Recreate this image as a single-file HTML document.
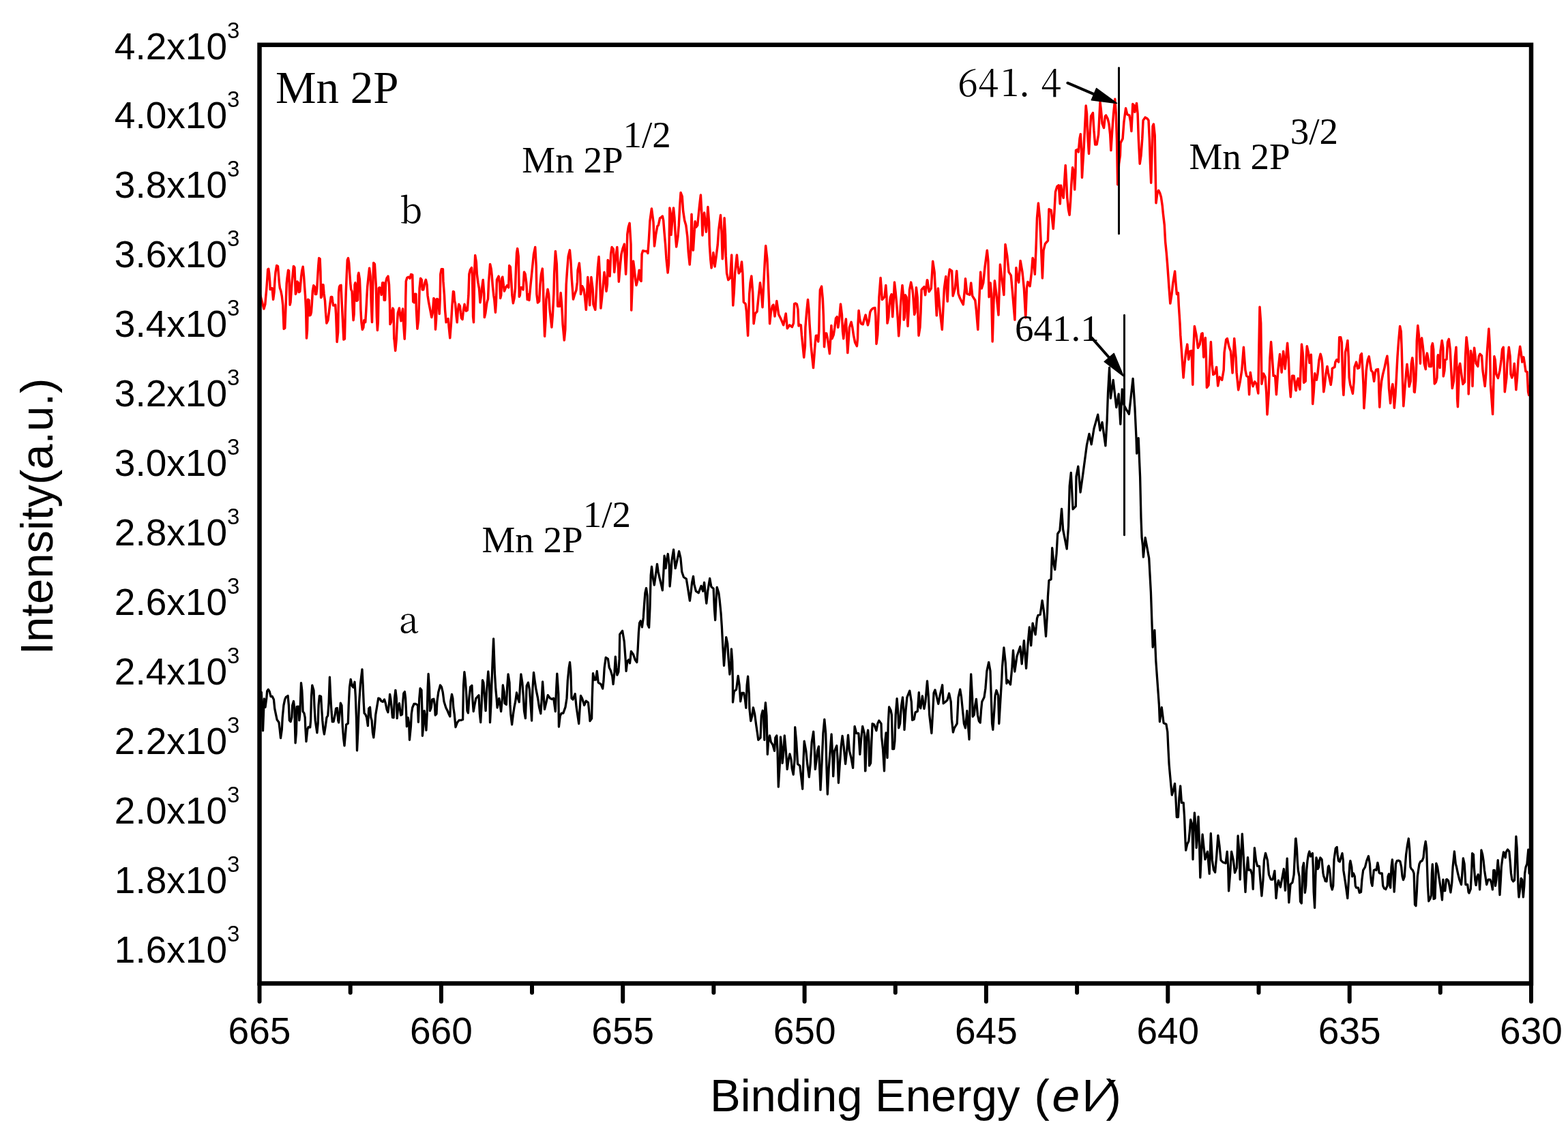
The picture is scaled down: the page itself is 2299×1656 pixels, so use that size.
<!DOCTYPE html><html><head><meta charset="utf-8"><title>Mn 2P XPS</title><style>html,body{margin:0;padding:0;background:#fff;}svg{display:block;}.sans{font-family:"Liberation Sans",Arial,sans-serif;}.serif{font-family:"Liberation Serif","Times New Roman",serif;}.song{font-family:"Noto Serif CJK SC","Liberation Serif",serif;}</style></head><body>
<svg width="2299" height="1656" viewBox="0 0 2299 1656">
<rect x="0" y="0" width="2299" height="1656" fill="#fff"/>
<polyline fill="none" stroke="#f00" stroke-width="3.5" stroke-linejoin="round" points="380.5,428.6 382.0,434.4 384.4,443.3 386.9,453.0 388.8,446.2 389.8,434.4 390.8,423.7 391.8,410.0 392.7,395.3 393.7,394.3 394.7,401.1 395.7,413.9 396.2,424.6 397.6,422.7 399.1,422.7 400.6,439.3 402.0,428.6 403.0,410.9 404.0,399.2 405.7,389.4 407.4,390.4 408.4,402.1 409.4,414.8 410.4,422.7 411.8,426.6 413.3,434.4 414.8,448.1 416.2,482.4 417.7,481.4 418.7,457.9 419.7,430.5 420.2,415.8 421.1,407.0 422.6,396.2 423.6,397.2 424.1,414.8 425.1,447.2 426.0,443.3 427.0,428.6 428.0,414.8 429.0,405.1 430.4,390.4 431.9,392.3 432.9,418.8 433.4,431.5 434.4,428.6 435.8,412.9 437.3,414.8 438.3,428.6 439.7,427.6 440.7,416.8 441.7,405.1 442.7,397.2 444.2,391.3 445.6,406.0 446.6,420.7 447.6,434.4 448.6,454.0 449.5,496.1 450.5,484.4 451.5,439.3 453.0,440.3 453.9,462.8 455.4,461.9 456.4,457.9 457.4,444.2 458.4,426.6 459.8,418.8 461.3,420.7 462.3,431.5 463.7,431.5 464.7,423.7 465.7,407.0 466.7,390.4 467.7,378.6 469.1,379.6 469.9,398.2 470.6,436.4 471.6,435.4 472.6,417.8 474.0,417.8 475.0,430.5 476.5,441.3 477.5,457.9 478.9,474.1 480.9,469.7 482.4,457.9 483.8,446.2 485.3,435.4 486.8,435.4 487.7,442.3 488.7,448.1 490.2,448.1 491.7,447.2 492.6,460.9 494.1,501.5 495.6,487.3 496.6,428.6 497.5,420.7 498.5,418.8 500.0,418.3 501.0,440.3 502.4,467.7 503.9,498.1 505.4,497.1 506.3,457.9 507.3,427.6 508.3,403.1 509.3,381.5 510.5,378.6 511.7,385.5 512.7,401.1 513.7,414.8 514.7,424.6 516.1,427.6 517.1,451.1 518.1,469.7 519.1,460.9 520.1,417.8 521.0,414.8 522.0,418.8 523.0,441.3 524.5,440.3 525.0,404.1 525.9,400.2 527.4,410.0 528.4,432.5 528.9,454.0 529.9,472.6 531.3,483.4 532.8,480.5 533.8,469.7 535.7,472.6 536.7,457.0 537.7,438.4 538.7,420.7 540.1,407.0 541.6,393.3 543.1,405.1 544.1,441.3 545.5,472.6 546.5,427.6 547.0,409.0 547.7,385.5 549.4,387.4 550.4,404.1 551.4,420.7 552.4,464.8 553.4,484.4 554.3,472.6 555.3,422.7 556.3,421.7 557.8,422.7 559.2,432.5 560.7,414.8 562.2,414.8 563.2,440.3 564.6,440.3 565.6,413.9 567.1,408.0 569.0,405.1 570.5,417.8 571.5,446.2 572.0,475.6 573.4,472.6 574.4,457.9 575.9,452.1 576.9,454.0 577.8,497.1 578.1,497.8 579.7,514.4 581.2,497.8 582.3,474.9 583.3,459.3 585.4,452.0 586.4,460.3 588.0,470.7 589.6,459.3 590.6,453.0 591.6,474.9 593.2,497.2 594.3,474.9 594.8,435.3 595.3,412.4 596.9,407.2 598.9,406.2 601.0,408.3 602.6,402.5 604.7,403.1 605.2,422.8 605.7,442.6 607.3,443.7 608.3,431.2 609.9,431.2 610.4,454.1 611.9,482.2 613.5,469.7 614.5,443.7 615.1,422.8 616.6,408.3 618.2,410.4 619.2,424.9 620.8,424.9 622.9,414.5 624.4,410.4 626.0,417.6 627.0,433.2 628.6,443.7 630.7,454.1 632.8,465.5 634.3,459.3 635.9,437.4 637.4,439.5 638.5,483.2 639.5,469.7 640.6,438.4 642.6,439.5 644.2,460.3 645.2,438.4 645.8,402.0 647.3,394.7 649.4,394.7 649.9,412.4 651.5,433.2 652.5,454.1 654.1,472.8 655.6,468.6 657.2,467.6 658.2,480.1 659.8,495.7 661.4,474.9 662.9,448.9 664.5,427.5 665.5,428.0 666.6,441.6 667.6,445.7 669.2,464.5 670.2,472.8 671.3,456.1 672.8,446.3 674.4,448.9 675.4,458.2 676.5,466.5 678.0,468.6 679.6,454.1 681.1,446.3 683.2,456.1 685.3,455.1 686.9,433.2 687.9,402.0 689.5,395.8 691.5,392.7 692.6,406.2 693.6,464.5 694.5,472.8 695.2,433.2 695.7,397.9 696.7,374.5 698.3,384.3 699.3,402.0 700.9,414.5 702.5,422.8 704.0,443.7 705.6,433.2 706.6,422.8 708.2,410.4 709.8,431.2 710.3,465.5 711.8,459.3 713.9,443.7 715.5,438.4 716.5,414.5 718.6,387.5 720.2,394.7 721.2,404.1 722.2,417.6 723.8,433.2 724.8,439.5 726.4,458.2 727.4,443.7 728.5,410.4 731.1,405.2 732.6,415.6 733.7,437.4 734.7,433.2 735.8,408.3 736.8,406.2 738.4,418.7 739.4,427.0 741.5,421.8 743.6,418.7 745.7,421.8 746.7,389.5 748.3,391.6 749.8,414.5 750.9,433.2 752.4,444.7 754.0,437.4 755.5,422.8 756.6,391.6 757.6,370.8 758.7,364.6 760.2,376.0 760.7,403.1 761.3,435.3 762.3,433.2 763.3,421.8 765.4,421.8 767.0,424.9 768.5,398.9 770.1,402.0 771.7,414.5 773.2,439.5 773.7,431.6 775.9,440.4 778.1,416.9 780.3,394.9 782.5,372.8 784.7,362.5 786.2,390.4 786.9,431.6 788.4,444.1 790.6,441.9 792.0,416.9 793.5,402.2 795.3,394.1 796.4,416.9 797.2,453.6 798.6,493.3 800.1,468.3 800.8,438.9 803.0,424.2 804.5,431.6 806.0,453.6 808.9,480.0 810.4,461.0 811.9,431.6 812.6,402.2 814.4,368.4 816.3,387.5 817.0,416.9 817.7,449.2 820.7,449.2 822.1,429.4 823.6,446.3 825.1,475.6 827.3,499.1 828.8,483.0 829.5,446.3 830.2,416.9 831.7,394.9 833.2,375.8 835.4,366.9 836.8,381.6 838.3,409.5 840.5,438.9 842.7,431.6 844.9,425.7 846.4,413.9 847.1,396.3 849.3,386.0 850.8,402.2 851.5,431.6 853.7,419.8 855.9,424.2 857.4,434.5 859.3,454.3 860.3,438.9 861.8,406.6 863.3,424.2 864.7,447.7 866.9,406.6 869.1,424.2 869.9,446.3 872.8,454.3 875.0,416.9 876.5,391.9 878.0,376.5 879.4,402.2 880.9,452.1 882.4,438.9 883.8,424.2 886.0,399.3 887.5,409.5 889.0,427.2 890.4,416.9 891.2,381.6 892.6,384.6 894.1,405.1 895.6,372.8 897.1,362.5 899.3,365.5 900.7,399.3 902.9,375.8 904.8,362.5 906.6,394.9 907.3,413.2 909.5,387.5 911.0,372.8 913.2,364.0 915.4,358.1 917.6,402.2 919.1,372.8 919.8,343.4 921.3,333.2 923.1,327.3 925.0,358.1 925.7,455.1 927.2,416.9 928.6,383.1 930.1,394.9 931.6,409.5 933.0,418.4 935.2,409.5 937.2,396.3 938.9,411.0 940.1,412.5 941.1,372.8 942.6,367.7 945.5,368.4 948.5,368.4 949.9,371.4 951.4,350.8 952.9,324.3 955.4,306.0 958.0,325.8 959.5,361.1 961.7,343.4 963.9,331.7 965.4,330.2 967.6,319.9 969.8,318.5 971.3,317.0 972.7,323.3 974.1,341.6 975.6,358.5 977.0,379.7 979.1,400.1 980.5,386.7 981.2,351.5 981.9,305.0 983.3,313.5 984.0,344.5 986.1,319.1 987.5,305.0 988.9,319.1 990.3,344.5 991.7,362.1 993.9,347.3 995.3,330.4 996.7,302.2 998.1,282.5 1000.2,288.2 1001.6,309.3 1003.7,323.3 1005.8,330.4 1007.9,347.3 1009.3,369.8 1011.2,388.1 1012.9,365.6 1014.0,314.2 1015.7,358.5 1016.4,367.0 1017.8,344.5 1019.2,324.8 1020.6,333.2 1022.7,330.4 1024.1,316.3 1025.5,302.2 1027.4,286.0 1029.0,316.3 1030.0,345.2 1031.2,323.3 1032.6,312.1 1034.0,326.2 1035.4,340.2 1036.8,323.3 1037.9,303.6 1039.6,326.2 1040.3,358.5 1041.7,379.7 1043.1,393.0 1044.5,383.9 1045.9,370.5 1048.1,390.9 1050.2,375.4 1052.3,358.5 1053.7,337.4 1056.5,315.6 1057.9,338.8 1059.3,379.7 1060.7,358.5 1062.1,319.8 1063.5,344.5 1064.2,375.4 1065.6,400.8 1067.8,410.6 1070.6,407.8 1072.7,374.0 1073.4,400.8 1074.8,447.9 1076.2,428.9 1077.6,400.8 1080.4,374.0 1081.8,389.5 1083.2,400.8 1085.4,398.0 1087.5,383.9 1088.9,400.8 1090.3,443.0 1093.1,445.8 1094.5,457.1 1096.6,492.3 1098.7,431.7 1100.1,414.8 1101.8,405.0 1103.7,428.9 1105.1,474.7 1107.2,459.9 1110.0,457.1 1112.1,436.0 1114.5,414.8 1116.3,428.9 1118.0,450.7 1119.8,414.8 1121.2,386.7 1122.7,360.6 1124.8,379.7 1126.2,407.8 1127.6,443.0 1128.6,474.7 1130.4,457.1 1132.5,448.6 1133.9,447.2 1136.0,464.1 1138.8,441.6 1141.7,461.3 1145.2,468.3 1148.7,476.8 1152.2,459.9 1154.3,481.7 1157.8,476.8 1161.4,479.6 1163.5,474.0 1164.6,445.8 1166.1,444.9 1168.3,446.0 1169.9,453.7 1171.0,478.0 1172.7,476.3 1174.3,476.9 1175.4,491.2 1177.1,507.7 1178.7,524.2 1180.4,507.7 1180.9,480.2 1182.6,458.1 1184.5,439.4 1185.9,453.7 1187.0,474.6 1188.1,491.2 1189.2,507.7 1190.8,524.2 1192.5,539.6 1194.1,518.7 1195.3,502.2 1196.4,492.3 1198.0,492.3 1199.7,501.1 1200.8,485.7 1201.3,458.1 1202.4,425.1 1204.6,420.1 1206.3,438.3 1207.4,463.6 1208.5,508.8 1210.1,489.0 1211.8,489.0 1213.4,496.7 1215.1,508.8 1216.4,518.7 1217.8,496.7 1218.9,477.4 1220.0,496.7 1222.2,491.2 1223.9,480.2 1225.5,466.9 1227.2,464.7 1228.8,480.2 1230.5,469.1 1232.5,446.0 1234.4,461.4 1235.5,485.7 1236.8,496.7 1238.2,480.2 1240.4,468.0 1241.5,491.2 1242.8,517.6 1244.3,496.7 1245.4,480.2 1248.1,472.4 1249.8,480.2 1251.4,491.2 1253.6,502.2 1256.4,507.7 1257.5,496.7 1258.0,475.8 1259.1,455.4 1260.8,469.1 1262.4,474.6 1265.2,475.8 1266.9,469.1 1269.1,462.0 1270.7,469.1 1272.4,476.9 1274.0,471.3 1275.7,458.1 1277.3,454.8 1280.1,452.1 1282.8,451.5 1283.9,463.6 1285.0,504.4 1286.7,491.2 1287.8,469.1 1288.9,436.1 1291.1,407.5 1292.2,422.9 1293.3,439.4 1295.5,437.2 1297.1,435.0 1298.8,418.5 1299.9,433.9 1301.0,474.1 1302.7,465.8 1303.8,449.3 1305.4,436.1 1307.1,431.7 1308.7,464.7 1309.8,447.1 1311.5,414.1 1313.1,428.4 1314.8,447.1 1316.4,469.1 1317.7,492.8 1319.2,474.6 1320.3,449.3 1321.4,436.1 1323.0,418.5 1324.7,436.1 1325.2,469.1 1326.3,465.8 1327.4,432.8 1329.1,436.1 1330.2,458.1 1331.0,478.5 1332.4,452.6 1333.5,425.1 1335.7,414.1 1337.9,425.1 1339.0,436.1 1340.7,461.4 1341.8,458.1 1343.4,421.8 1345.1,436.1 1346.2,469.1 1347.0,492.3 1348.9,480.2 1350.0,458.1 1351.1,425.1 1352.8,422.9 1355.0,420.7 1356.6,432.8 1358.3,419.6 1359.4,410.8 1359.8,411.0 1362.2,427.7 1365.3,423.0 1367.7,383.2 1370.1,399.1 1371.7,430.9 1373.3,462.8 1375.4,423.0 1377.3,446.8 1378.9,462.8 1381.3,483.4 1382.8,454.8 1384.4,423.0 1386.8,405.5 1389.2,442.1 1390.8,407.1 1392.4,395.1 1395.6,397.5 1397.2,434.1 1400.3,423.0 1402.7,397.5 1405.1,430.9 1407.5,437.3 1409.9,442.1 1412.3,446.8 1414.7,423.0 1415.5,408.7 1417.8,430.9 1421.8,432.5 1423.7,415.0 1425.8,434.1 1429.8,440.5 1431.4,454.8 1433.8,483.4 1435.4,446.8 1437.7,399.1 1439.3,423.0 1441.7,415.0 1444.1,391.2 1447.3,367.3 1448.9,383.2 1450.1,435.7 1452.1,415.0 1453.6,430.9 1455.2,500.9 1456.8,446.8 1458.4,411.8 1460.8,430.9 1464.0,462.0 1466.4,388.0 1468.8,407.1 1471.9,432.5 1474.0,358.5 1476.7,375.2 1479.1,399.1 1482.3,403.9 1484.7,430.9 1487.9,469.1 1489.9,392.7 1491.8,407.1 1493.7,414.2 1496.1,382.4 1499.0,399.1 1501.4,423.0 1503.8,465.9 1505.4,423.0 1506.9,413.4 1510.1,419.8 1512.5,399.1 1514.1,378.4 1515.7,383.2 1517.3,402.3 1518.9,367.3 1520.5,319.6 1522.4,298.1 1524.5,319.6 1526.0,351.4 1528.4,407.9 1530.0,367.3 1532.4,357.7 1536.4,353.0 1538.0,306.8 1541.2,308.4 1544.3,335.5 1545.9,311.6 1547.5,281.4 1549.9,273.4 1552.3,271.8 1554.2,298.9 1554.3,298.9 1555.5,272.0 1557.3,283.0 1559.2,290.3 1560.4,270.8 1562.2,242.6 1563.5,264.6 1564.7,289.1 1566.5,307.5 1568.1,315.4 1569.6,295.2 1570.8,270.8 1572.6,245.7 1574.5,252.4 1575.7,278.1 1576.9,252.4 1577.5,220.6 1579.4,219.4 1581.2,223.0 1583.0,203.4 1584.3,196.7 1585.5,218.1 1586.5,260.4 1587.3,246.3 1589.2,215.7 1590.4,191.2 1592.2,155.1 1593.5,166.7 1594.7,197.3 1596.5,225.5 1598.3,191.2 1599.6,170.4 1602.4,165.5 1603.9,191.2 1605.7,212.0 1608.1,212.0 1610.6,197.3 1611.8,172.8 1613.0,149.6 1614.3,160.6 1616.1,181.4 1618.5,187.5 1620.4,170.4 1621.6,169.2 1624.1,174.1 1625.9,181.4 1627.7,197.3 1628.9,220.6 1630.8,191.2 1632.6,166.7 1634.8,145.3 1636.3,166.7 1637.5,203.4 1638.7,270.8 1640.6,240.2 1642.4,227.9 1643.0,209.6 1646.1,203.4 1647.9,179.0 1650.6,158.8 1652.8,167.9 1655.9,169.2 1657.7,179.0 1658.9,192.4 1660.2,166.7 1660.8,152.6 1662.4,154.5 1663.8,164.3 1666.5,151.4 1668.1,166.7 1669.3,203.4 1671.2,240.2 1673.0,227.9 1674.8,203.4 1676.1,176.5 1679.1,172.2 1682.2,174.1 1684.0,176.5 1685.3,203.4 1686.5,240.2 1687.7,268.3 1688.9,227.9 1690.1,185.1 1691.4,182.0 1693.2,198.5 1693.8,234.0 1695.0,297.7 1696.9,283.0 1698.7,279.3 1700.6,283.0 1702.4,289.1 1704.2,301.4 1705.4,313.6 1707.3,330.0 1708.6,354.3 1710.3,371.4 1711.7,388.5 1712.9,405.7 1714.1,422.8 1715.8,445.1 1718.0,431.4 1719.7,416.0 1722.6,398.0 1724.0,416.0 1725.4,431.4 1727.4,429.7 1728.3,448.5 1730.0,474.2 1730.8,491.4 1732.6,517.1 1735.1,553.9 1736.8,534.2 1738.6,517.1 1740.8,505.1 1742.8,527.3 1744.9,515.3 1747.1,514.5 1748.8,564.2 1750.0,508.5 1751.4,478.5 1754.0,491.4 1756.5,510.2 1759.1,505.1 1761.7,489.6 1763.1,488.8 1764.8,523.9 1767.3,495.6 1768.5,525.6 1769.4,568.5 1772.0,565.0 1773.7,534.2 1775.4,501.6 1777.1,534.2 1778.8,549.6 1781.4,547.9 1783.6,538.5 1785.7,565.9 1788.2,553.0 1791.7,557.3 1794.2,542.8 1795.1,517.1 1797.7,498.2 1799.4,496.5 1802.0,508.5 1804.5,515.3 1807.1,547.0 1809.7,496.5 1812.2,525.6 1813.1,546.2 1815.7,571.9 1818.2,559.9 1820.8,542.8 1823.4,509.3 1825.9,542.8 1827.7,551.3 1830.2,553.0 1831.6,578.7 1833.3,546.2 1835.4,559.9 1837.1,566.7 1839.7,559.9 1842.2,563.3 1844.8,577.0 1845.6,525.6 1847.0,450.2 1848.7,474.2 1849.9,563.3 1852.5,547.9 1855.1,553.0 1856.8,577.0 1858.0,607.9 1860.2,577.0 1861.9,525.6 1863.6,501.6 1865.4,525.6 1867.1,551.3 1869.6,551.3 1871.4,578.7 1873.9,542.8 1876.5,519.6 1879.1,546.2 1881.6,515.3 1884.2,541.0 1887.6,503.3 1889.3,525.6 1890.5,559.9 1892.3,582.2 1894.5,551.3 1897.1,551.3 1899.6,571.9 1900.2,572.8 1901.8,559.2 1903.3,555.1 1904.4,564.4 1905.9,571.2 1907.0,543.6 1908.5,505.1 1910.1,517.6 1911.1,543.6 1911.6,561.3 1914.2,559.2 1915.3,522.8 1916.3,507.7 1918.4,517.6 1920.0,532.2 1922.3,520.2 1923.1,543.6 1924.1,564.4 1924.7,592.5 1926.2,574.8 1927.8,547.8 1930.4,557.2 1931.9,548.8 1934.0,528.0 1936.1,519.2 1937.7,524.9 1938.7,533.2 1939.7,554.0 1940.8,574.8 1942.3,564.4 1943.9,548.8 1946.0,537.4 1947.5,546.8 1949.1,554.0 1951.2,564.4 1952.7,554.0 1953.3,540.5 1954.8,539.5 1956.9,538.4 1957.9,531.1 1960.0,527.5 1962.6,531.1 1963.7,494.7 1965.7,494.7 1967.3,502.0 1968.9,564.4 1969.9,579.5 1971.5,548.8 1972.5,516.6 1974.1,510.3 1975.9,499.4 1977.2,522.8 1978.2,554.0 1979.8,564.4 1981.4,569.6 1983.4,577.4 1985.0,561.3 1986.0,538.4 1988.6,531.1 1990.7,540.5 1992.8,539.5 1994.9,520.7 1996.4,518.7 1998.0,543.6 1999.0,564.4 1999.9,598.8 2001.6,574.8 2003.2,543.6 2005.3,528.0 2007.2,522.8 2008.9,533.2 2010.5,543.6 2012.6,545.7 2014.6,559.2 2016.2,546.8 2017.8,542.1 2020.4,541.6 2021.4,554.0 2021.9,574.8 2022.8,597.2 2024.0,574.8 2025.6,559.2 2027.6,548.8 2030.2,538.4 2032.3,528.0 2033.9,522.3 2035.4,538.4 2036.5,569.6 2038.6,591.5 2040.7,569.6 2041.9,563.4 2043.3,574.8 2044.3,598.3 2045.9,580.0 2047.4,554.0 2049.0,522.8 2050.5,502.0 2052.6,478.6 2054.2,486.4 2055.2,512.4 2056.3,554.0 2057.8,595.7 2059.4,574.8 2061.5,548.8 2063.0,534.3 2064.6,548.8 2066.1,567.0 2068.2,559.2 2069.3,533.2 2070.8,524.9 2072.4,538.4 2073.4,574.8 2074.2,575.4 2075.7,559.2 2076.8,533.2 2077.3,499.9 2078.8,477.6 2080.4,491.6 2081.4,512.4 2082.5,533.2 2083.0,499.9 2084.6,495.8 2086.1,507.2 2087.2,517.6 2088.2,533.2 2090.3,541.6 2091.3,522.8 2092.4,518.1 2094.4,528.0 2095.5,537.4 2098.6,537.4 2099.1,508.3 2100.4,503.6 2101.7,512.4 2102.3,538.4 2103.3,562.9 2105.4,560.3 2106.9,554.0 2108.0,522.8 2108.5,520.7 2110.1,522.8 2111.1,539.5 2112.1,514.5 2114.2,499.4 2115.8,510.3 2116.3,552.0 2117.9,543.6 2118.9,528.0 2121.0,527.0 2122.5,502.0 2124.3,497.3 2126.2,512.4 2126.7,522.8 2128.3,554.0 2129.3,569.6 2131.4,559.2 2132.4,543.6 2133.5,522.8 2135.0,509.3 2136.1,543.6 2136.6,585.2 2137.4,596.7 2138.7,564.4 2139.2,539.5 2140.7,533.2 2142.8,548.8 2144.9,563.4 2147.5,560.3 2148.5,522.8 2150.1,494.7 2152.2,512.4 2152.7,543.6 2153.2,578.0 2154.8,543.6 2156.4,514.5 2157.9,522.8 2159.0,566.5 2160.0,533.2 2161.6,510.3 2163.1,522.8 2164.2,533.2 2166.8,537.4 2168.3,522.8 2169.9,519.2 2172.5,521.8 2174.0,543.6 2177.2,566.5 2178.7,548.8 2180.3,517.6 2182.9,482.3 2184.4,507.2 2185.5,564.4 2187.0,585.2 2188.6,607.6 2189.6,574.8 2190.9,522.8 2192.2,528.0 2193.8,548.8 2196.4,554.6 2199.0,543.6 2201.1,528.0 2202.6,512.4 2204.2,509.3 2205.2,533.2 2206.3,574.8 2208.9,554.0 2209.9,533.2 2212.3,509.3 2214.1,522.8 2215.1,548.8 2216.7,554.0 2218.8,548.8 2220.3,533.2 2221.4,548.8 2222.9,571.7 2224.5,554.0 2226.1,528.0 2228.7,508.3 2230.2,517.6 2231.8,531.1 2233.9,523.9 2235.4,533.2 2237.0,544.7 2239.1,545.7 2240.6,574.8 2241.7,579.5 2243.2,569.6 2244.8,554.0 2245.6,537.4"/>
<polyline fill="none" stroke="#000" stroke-width="3.3" stroke-linejoin="round" points="380.6,1039.1 383.3,1015.3 385.5,1071.7 387.3,1025.0 389.0,1037.3 390.8,1024.1 391.7,1013.5 393.4,1011.3 395.2,1014.4 397.0,1021.5 399.2,1021.5 401.4,1025.9 402.7,1039.1 404.5,1047.9 406.2,1055.8 408.9,1059.4 410.2,1070.0 411.5,1082.7 413.3,1070.0 414.2,1052.3 415.9,1034.7 417.7,1025.9 419.4,1022.3 422.1,1020.6 423.4,1034.7 424.3,1056.7 426.1,1058.5 427.8,1052.3 428.7,1034.7 430.5,1028.5 431.8,1039.1 432.2,1056.7 433.1,1089.8 434.4,1074.4 435.3,1036.4 438.0,1036.4 438.8,1056.7 439.7,1047.9 440.6,1025.9 441.5,1001.6 442.8,1012.6 443.7,1030.3 444.1,1043.5 445.9,1046.1 447.2,1052.3 447.7,1065.5 449.0,1087.6 450.8,1070.0 452.1,1066.4 454.7,1066.9 455.6,1056.7 456.5,1021.5 457.8,1005.1 460.0,1012.6 460.9,1034.7 462.2,1056.7 463.5,1065.5 464.9,1074.8 466.2,1061.1 467.1,1034.7 468.4,1020.6 470.6,1021.5 471.5,1037.3 472.8,1056.7 474.1,1070.0 475.4,1077.0 477.2,1065.5 479.0,1052.3 480.7,1049.7 482.1,1030.3 483.4,993.2 484.7,1021.5 486.0,1043.5 487.3,1058.5 489.1,1058.5 491.3,1047.9 492.6,1039.1 494.4,1038.7 495.7,1056.7 496.6,1059.8 497.9,1047.9 499.3,1031.2 501.0,1034.7 502.3,1065.5 503.7,1083.2 505.0,1093.8 506.7,1074.4 507.6,1062.9 510.3,1061.1 511.2,1034.7 512.5,1008.2 514.2,996.3 516.4,1006.5 518.2,1008.2 520.0,1000.3 521.3,1021.5 522.6,1056.7 523.5,1100.8 524.8,1074.4 526.6,1030.3 528.4,1003.8 531.0,981.8 532.3,1008.2 533.2,1030.3 534.1,1046.1 535.8,1047.9 537.6,1052.3 539.4,1064.7 540.7,1039.1 542.5,1037.3 543.8,1052.3 545.1,1056.7 546.4,1074.4 547.8,1081.9 549.5,1065.5 550.8,1047.9 553.0,1034.7 554.8,1024.1 557.0,1025.0 559.2,1028.5 561.4,1029.4 563.6,1025.9 565.4,1032.0 567.2,1040.9 568.9,1044.8 570.7,1030.3 571.6,1018.4 572.9,1025.9 573.8,1034.7 575.5,1052.3 577.1,1052.7 578.5,1024.3 579.9,1012.3 581.3,1024.3 582.2,1053.6 583.6,1038.0 585.4,1031.6 586.8,1042.6 587.7,1049.0 589.5,1048.1 590.4,1033.4 591.8,1016.9 593.4,1014.6 594.6,1024.3 595.5,1042.6 596.4,1065.6 598.2,1052.7 599.6,1061.0 600.5,1085.3 602.4,1065.6 603.3,1047.2 604.7,1038.0 607.0,1032.5 609.7,1032.5 612.5,1034.4 613.4,1059.1 614.8,1024.3 616.1,1009.6 618.0,1012.3 618.9,1042.6 619.4,1079.3 620.7,1065.6 622.1,1042.6 623.5,1051.8 624.9,1071.1 626.2,1047.2 627.2,1007.7 628.1,988.5 629.5,1007.7 630.4,1042.6 632.2,1038.0 633.6,1026.1 635.9,1025.2 637.3,1033.4 638.2,1049.0 640.0,1047.2 640.9,1028.9 642.8,1015.1 645.5,1005.0 647.4,1007.7 649.2,1015.1 651.0,1028.9 653.8,1038.0 656.1,1042.6 658.4,1048.1 659.8,1050.9 660.7,1028.9 662.5,1018.3 663.9,1024.3 664.8,1038.0 666.2,1047.2 668.0,1066.5 670.3,1060.1 673.1,1056.4 675.8,1056.4 678.6,1055.5 679.5,1005.9 680.9,985.7 682.2,996.7 683.6,1015.1 685.0,1042.6 686.4,1045.8 687.8,1024.3 689.6,1007.7 691.9,1005.4 692.8,1024.3 694.2,1043.5 696.0,1033.4 697.9,1024.3 699.7,1022.4 702.0,1019.7 703.4,1047.2 704.7,1059.6 706.1,1033.4 707.5,997.6 708.9,1001.3 710.7,1024.3 712.1,1042.6 713.5,1015.1 715.8,984.8 717.6,1005.9 718.5,1059.6 719.9,1033.4 720.8,1005.9 722.2,969.2 723.6,936.8 725.4,987.5 726.8,1010.5 728.1,1024.3 729.1,1038.0 731.8,1024.3 733.2,1033.4 734.6,1043.5 736.4,1024.3 737.3,1005.0 739.2,1015.1 740.1,1031.6 742.4,1033.4 743.8,1005.9 745.1,988.9 747.0,1001.3 747.9,1033.4 748.8,1047.2 750.6,1062.8 752.5,1047.2 753.9,1038.0 755.7,1028.9 757.5,1016.0 759.4,1024.3 761.2,1029.8 762.6,1005.9 763.9,988.9 765.8,1001.3 767.2,1019.7 768.5,1042.6 770.4,1053.6 772.2,1005.9 774.4,1001.1 776.4,1011.4 778.3,1037.1 779.6,1057.0 780.9,1011.4 782.5,986.3 784.1,998.5 786.0,1011.4 788.6,1024.2 790.5,1037.1 792.8,1046.7 794.3,1024.2 795.6,999.8 796.9,1017.8 798.5,1040.3 800.8,1030.6 803.3,1019.7 806.6,1024.2 809.1,1025.5 811.7,1024.2 814.3,1043.5 815.6,1011.4 816.8,988.2 818.8,1017.8 819.4,1066.0 821.3,1049.9 823.3,1046.1 825.8,1046.1 829.0,1037.1 831.0,1024.2 832.3,998.5 834.2,979.2 835.5,971.5 836.8,985.7 838.0,1024.2 840.0,1026.1 843.2,1017.8 845.1,1037.1 847.0,1049.9 848.7,1061.5 850.3,1037.1 851.5,1020.4 853.5,1024.2 856.7,1034.5 859.2,1028.1 862.5,1030.6 864.4,1049.9 865.0,1057.6 867.6,1053.8 868.2,1024.2 869.5,987.6 871.5,997.2 873.4,997.2 875.3,984.4 877.2,1001.1 881.1,1003.7 883.7,1010.1 885.0,998.5 886.2,979.2 888.2,964.5 891.4,966.4 893.3,979.2 895.2,983.1 897.8,992.1 899.1,1003.7 901.0,985.7 902.3,963.2 903.6,979.2 904.9,990.2 906.8,985.7 908.1,966.4 908.7,930.4 912.6,925.3 915.2,940.7 917.1,966.4 918.1,984.4 919.7,970.2 921.6,967.7 923.5,972.8 925.4,955.5 928.6,960.0 931.2,967.7 933.8,971.5 935.1,953.5 936.4,927.8 937.6,913.7 939.2,910.8 941.4,919.8 943.3,905.7 944.6,886.4 945.9,869.7 947.5,862.6 949.1,873.5 949.7,915.9 951.6,920.4 952.9,892.8 953.6,867.1 954.2,844.0 955.5,831.1 957.4,847.8 959.3,858.1 961.3,844.0 963.5,827.3 965.1,838.8 967.1,847.8 969.6,858.1 971.3,865.8 972.8,841.4 974.1,815.1 976.1,833.7 977.3,822.1 979.3,812.5 981.2,828.6 982.1,860.0 983.8,841.4 985.0,822.1 987.6,806.1 989.5,827.3 990.2,833.7 992.8,822.1 995.6,808.6 997.9,818.3 999.8,838.8 1002.4,846.5 1006.3,849.1 1008.8,864.5 1011.4,881.2 1013.3,867.1 1014.6,854.3 1016.5,845.3 1017.8,856.8 1020.4,867.1 1024.2,869.7 1028.1,859.4 1030.7,867.1 1032.6,854.3 1034.5,873.5 1035.8,885.1 1037.7,867.1 1040.7,848.5 1042.9,860.7 1046.1,863.3 1047.4,892.8 1048.7,909.5 1050.0,880.0 1051.2,861.3 1053.8,869.7 1055.1,880.0 1057.0,899.2 1058.3,918.5 1059.6,944.2 1061.5,976.4 1063.4,950.6 1064.7,934.6 1066.7,944.2 1067.9,963.5 1069.9,989.2 1071.8,969.9 1072.4,951.9 1073.7,969.9 1074.4,1000.0 1074.5,1030.0 1076.4,1014.0 1079.6,1011.4 1082.2,991.5 1084.1,1005.0 1085.7,1028.8 1088.0,1016.5 1090.6,1016.5 1092.5,1026.8 1093.8,1038.4 1095.1,1005.0 1096.6,992.1 1098.3,1017.8 1098.9,1039.7 1100.8,1057.7 1102.8,1050.0 1104.4,1037.8 1106.6,1047.4 1108.6,1062.8 1110.5,1075.7 1111.8,1085.3 1115.0,1082.1 1116.3,1050.0 1118.2,1042.3 1119.5,1050.0 1120.8,1085.3 1121.4,1043.5 1122.4,1030.7 1124.0,1050.0 1125.3,1106.5 1126.5,1088.5 1128.5,1078.9 1130.4,1088.5 1133.0,1092.4 1135.5,1101.4 1136.8,1082.1 1138.8,1078.9 1140.0,1101.4 1141.3,1154.1 1143.3,1120.6 1144.5,1080.8 1146.5,1101.4 1147.1,1119.4 1148.4,1107.8 1150.3,1078.9 1152.3,1101.4 1154.2,1128.4 1156.1,1114.2 1158.0,1105.9 1160.0,1114.2 1161.2,1127.1 1163.2,1136.1 1165.1,1114.2 1165.7,1066.7 1167.7,1088.5 1169.6,1120.6 1172.8,1123.2 1174.7,1139.9 1176.7,1157.3 1178.0,1114.2 1179.2,1087.2 1181.8,1101.4 1183.7,1120.6 1186.3,1139.9 1188.2,1120.6 1190.2,1088.5 1192.7,1073.1 1194.0,1094.9 1195.3,1128.4 1197.2,1114.2 1198.5,1101.4 1200.4,1094.9 1201.7,1127.1 1203.0,1158.6 1204.9,1120.6 1206.9,1075.7 1208.8,1055.1 1210.7,1075.7 1212.0,1127.1 1213.3,1165.0 1215.2,1127.1 1217.2,1101.4 1219.1,1077.0 1221.0,1114.2 1221.7,1138.6 1223.6,1101.4 1226.8,1093.7 1228.1,1114.2 1229.4,1148.3 1231.3,1120.6 1233.2,1094.9 1235.1,1079.5 1237.1,1094.9 1239.6,1120.6 1241.6,1101.4 1243.5,1078.2 1245.4,1101.4 1248.0,1111.7 1250.6,1126.4 1251.9,1094.9 1253.1,1065.4 1255.7,1075.7 1258.9,1075.7 1260.8,1106.5 1262.8,1082.1 1264.7,1065.4 1267.3,1075.7 1268.6,1130.9 1268.9,1130.8 1270.8,1080.6 1272.7,1071.0 1274.0,1087.1 1274.6,1123.1 1276.6,1119.2 1277.9,1087.1 1279.1,1061.4 1281.7,1062.7 1284.9,1071.7 1286.8,1061.4 1288.8,1056.9 1292.0,1061.4 1292.6,1080.6 1294.6,1099.9 1296.5,1130.8 1297.8,1087.1 1299.1,1074.9 1301.0,1111.5 1302.3,1061.4 1303.6,1037.0 1306.1,1042.1 1307.4,1048.5 1308.7,1098.6 1310.6,1098.6 1311.9,1087.1 1313.2,1048.5 1315.1,1024.7 1317.0,1048.5 1317.7,1067.8 1319.6,1061.4 1321.5,1035.7 1323.5,1022.8 1325.4,1048.5 1326.0,1070.4 1328.0,1042.1 1329.9,1022.8 1333.8,1013.2 1336.3,1029.2 1337.6,1056.2 1340.2,1054.9 1342.1,1044.7 1345.3,1043.4 1347.3,1015.7 1348.5,1035.7 1349.8,1038.9 1352.4,1020.9 1355.0,1039.5 1356.9,1029.2 1359.5,999.0 1361.4,1022.8 1362.7,1048.5 1365.9,1075.5 1367.8,1042.1 1369.1,1016.4 1371.0,1011.9 1373.6,1022.8 1375.8,1032.5 1378.1,1020.2 1381.7,1004.8 1383.2,1031.8 1386.4,1029.2 1389.0,1026.7 1391.6,1017.0 1394.2,1029.2 1395.4,1054.9 1397.4,1074.2 1399.3,1067.8 1403.2,1061.4 1405.1,1022.8 1407.7,1011.2 1409.6,1022.8 1411.5,1042.1 1413.4,1061.4 1415.4,1067.8 1417.9,1042.7 1419.2,1061.4 1421.1,1084.5 1422.4,1022.8 1423.7,988.8 1425.6,1022.8 1426.3,1051.1 1428.2,1048.5 1429.5,1035.7 1431.4,1025.4 1433.4,1048.5 1435.3,1057.5 1437.2,1060.1 1438.5,1042.1 1439.8,1029.2 1443.0,1022.8 1444.9,1010.0 1446.9,984.3 1449.7,971.4 1452.0,984.3 1453.3,1022.8 1454.6,1061.4 1455.8,1070.4 1457.8,1042.1 1459.1,1020.2 1461.0,1012.5 1463.6,1020.2 1464.8,1061.4 1468.8,994.6 1469.5,978.7 1471.9,950.0 1474.3,972.3 1475.9,1002.5 1477.5,997.8 1481.5,1004.1 1483.9,978.7 1485.5,954.0 1487.8,985.0 1491.0,962.8 1495.8,948.4 1498.2,973.9 1501.4,939.7 1504.6,980.3 1506.9,946.8 1509.3,919.8 1511.7,946.8 1514.1,914.2 1518.1,930.9 1520.5,907.1 1522.1,902.3 1525.2,901.5 1528.1,880.8 1530.8,899.1 1533.5,933.3 1535.6,899.1 1536.4,875.2 1538.0,851.4 1541.1,849.8 1542.7,803.6 1545.1,827.5 1546.7,835.5 1549.1,811.6 1550.7,783.0 1553.9,778.2 1556.6,746.4 1558.6,776.6 1564.2,805.2 1566.6,771.8 1568.2,713.0 1570.3,693.3 1573.1,746.8 1577.3,742.6 1578.0,698.9 1580.8,684.1 1584.1,722.1 1587.9,694.7 1593.5,652.5 1597.0,636.3 1600.2,651.8 1604.0,628.5 1609.7,608.1 1612.9,631.4 1616.0,619.4 1620.9,653.9 1623.1,617.3 1624.5,576.5 1626.6,539.1 1628.4,584.2 1632.2,557.4 1636.8,597.6 1640.2,577.9 1642.8,622.2 1645.3,570.8 1647.7,593.3 1651.2,600.4 1655.4,607.4 1661.1,555.3 1663.9,597.6 1666.0,642.6 1666.7,665.1 1669.2,642.6 1671.6,699.1 1673.0,760.0 1674.1,788.1 1675.5,800.6 1676.4,817.1 1679.2,788.7 1684.7,818.9 1687.4,868.5 1689.3,923.6 1690.2,949.3 1692.9,924.5 1694.8,969.5 1699.4,1033.7 1700.4,1058.5 1703.3,1037.6 1706.1,1060.4 1709.9,1062.3 1711.8,1073.6 1713.0,1100.0 1714.1,1121.1 1715.5,1136.6 1716.9,1152.1 1718.3,1166.2 1720.4,1159.1 1722.5,1149.3 1723.9,1170.4 1725.3,1198.5 1727.4,1198.5 1728.9,1170.4 1730.7,1152.8 1732.4,1177.4 1735.2,1177.4 1736.6,1198.5 1738.0,1233.7 1738.7,1247.1 1740.8,1238.0 1742.9,1233.7 1744.3,1219.7 1745.7,1202.1 1747.9,1209.8 1749.0,1260.5 1750.0,1219.7 1751.4,1192.2 1753.2,1212.6 1754.2,1243.6 1755.6,1226.7 1757.0,1197.8 1758.4,1233.7 1759.8,1287.2 1761.9,1240.8 1763.1,1223.9 1764.8,1240.8 1766.9,1260.5 1770.4,1249.2 1773.2,1281.6 1775.3,1222.5 1777.4,1261.9 1779.5,1276.0 1781.6,1279.5 1783.8,1254.8 1785.9,1225.3 1788.0,1240.8 1790.1,1261.9 1792.9,1264.7 1797.1,1266.1 1799.2,1249.2 1800.6,1268.9 1801.6,1306.9 1803.5,1283.0 1805.6,1249.2 1808.4,1261.9 1810.5,1280.2 1813.3,1273.1 1815.1,1226.0 1816.8,1247.8 1818.2,1290.0 1819.7,1254.8 1821.3,1223.2 1823.2,1254.8 1824.6,1283.0 1826.0,1308.3 1827.4,1283.0 1829.5,1257.7 1830.9,1276.0 1833.7,1276.0 1835.8,1283.0 1837.2,1304.1 1839.4,1243.6 1841.5,1261.9 1843.6,1270.3 1846.4,1270.3 1847.8,1290.0 1849.9,1314.0 1852.0,1290.0 1853.4,1261.9 1855.5,1251.3 1858.4,1261.9 1860.5,1283.0 1863.3,1290.0 1866.1,1290.0 1868.9,1277.4 1871.0,1317.5 1873.1,1297.1 1874.5,1291.4 1877.4,1301.3 1879.5,1290.0 1882.3,1274.5 1884.4,1306.2 1887.2,1259.1 1889.8,1323.8 1892.1,1297.1 1895.0,1294.3 1897.1,1283.0 1899.6,1230.2 1900.0,1230.0 1901.4,1244.3 1902.3,1262.6 1903.3,1276.4 1905.1,1285.6 1906.5,1322.3 1908.3,1325.0 1909.2,1299.3 1910.1,1271.8 1911.5,1265.8 1912.4,1285.6 1913.4,1309.4 1914.7,1299.3 1915.7,1276.4 1917.0,1262.6 1918.4,1253.4 1919.8,1248.9 1921.6,1256.2 1923.0,1253.4 1924.4,1251.6 1925.3,1271.8 1926.2,1308.5 1927.6,1331.5 1929.0,1281.0 1929.9,1258.0 1931.3,1262.6 1932.2,1274.6 1933.6,1271.8 1934.5,1262.6 1935.9,1258.0 1938.1,1260.8 1939.1,1271.8 1940.0,1281.0 1940.9,1285.6 1941.8,1287.4 1943.2,1292.5 1945.0,1292.9 1946.4,1281.0 1947.3,1271.8 1948.2,1270.0 1949.6,1276.4 1950.5,1285.6 1951.5,1299.3 1953.3,1304.9 1954.7,1299.3 1955.6,1271.8 1956.0,1260.8 1958.3,1244.3 1960.2,1242.4 1961.1,1253.4 1962.5,1262.6 1964.3,1264.0 1966.1,1258.0 1968.0,1251.6 1969.4,1262.6 1969.8,1276.4 1971.2,1285.6 1972.6,1294.8 1973.9,1303.9 1975.8,1317.7 1977.2,1294.8 1978.1,1281.0 1979.0,1267.2 1979.9,1262.6 1981.8,1271.8 1982.7,1285.6 1984.5,1281.0 1986.3,1285.6 1987.3,1299.3 1988.6,1302.1 1991.4,1302.1 1993.2,1309.4 1995.5,1308.5 1996.9,1290.2 1998.7,1276.4 2001.5,1271.8 2003.8,1262.6 2006.5,1255.7 2008.4,1267.2 2009.3,1281.0 2010.7,1294.8 2012.0,1299.3 2013.4,1285.6 2014.3,1276.4 2016.2,1275.5 2018.0,1276.4 2019.9,1265.4 2021.2,1271.8 2022.1,1280.1 2023.5,1281.0 2026.3,1281.0 2027.7,1299.3 2029.5,1303.0 2031.8,1304.4 2034.1,1299.3 2035.0,1285.6 2036.4,1281.9 2037.8,1299.3 2038.7,1302.1 2040.0,1271.8 2041.4,1260.8 2042.8,1281.0 2044.2,1308.1 2045.6,1285.6 2046.5,1267.2 2048.3,1262.6 2050.6,1262.2 2052.9,1263.5 2054.7,1271.8 2056.1,1285.6 2057.5,1290.6 2059.3,1285.6 2060.2,1271.8 2061.6,1253.4 2063.5,1239.7 2065.3,1230.0 2066.7,1244.3 2068.0,1271.8 2069.4,1274.6 2071.3,1276.4 2073.1,1281.0 2074.5,1326.9 2076.0,1328.7 2077.3,1308.5 2078.3,1285.6 2079.6,1276.4 2081.0,1267.2 2082.9,1263.5 2085.1,1262.6 2087.0,1258.0 2088.4,1244.3 2090.2,1234.2 2091.6,1244.3 2092.5,1271.8 2093.4,1299.3 2094.8,1321.8 2097.1,1317.7 2098.5,1313.1 2099.4,1281.0 2100.3,1267.7 2101.2,1281.0 2102.1,1318.6 2104.0,1317.7 2104.9,1290.2 2105.8,1266.3 2107.6,1271.8 2109.0,1281.0 2110.4,1290.2 2111.8,1299.3 2113.1,1308.5 2114.5,1320.0 2115.9,1290.2 2116.8,1306.7 2118.7,1306.7 2120.5,1290.2 2121.4,1289.7 2123.7,1292.0 2125.1,1299.3 2126.9,1309.0 2128.8,1294.8 2130.1,1271.8 2132.4,1248.9 2134.3,1267.2 2135.6,1271.8 2137.5,1281.0 2139.8,1290.2 2142.5,1297.5 2143.9,1281.0 2145.3,1258.9 2147.1,1267.2 2148.0,1281.0 2148.9,1297.5 2151.7,1297.5 2153.1,1308.5 2154.0,1309.9 2156.3,1303.9 2157.7,1276.4 2158.6,1251.6 2160.4,1253.4 2161.3,1271.8 2162.7,1290.2 2164.1,1298.4 2165.9,1285.6 2167.3,1282.8 2168.7,1290.2 2169.6,1304.9 2171.0,1281.0 2171.9,1247.0 2173.7,1253.4 2175.1,1262.6 2176.5,1276.4 2177.9,1285.6 2179.7,1297.5 2182.0,1290.2 2184.8,1290.2 2186.6,1294.8 2188.4,1304.9 2189.8,1276.4 2191.2,1276.4 2192.6,1299.3 2193.9,1290.2 2196.2,1261.7 2197.6,1276.4 2198.5,1303.9 2199.0,1312.7 2200.4,1290.2 2201.3,1271.8 2202.7,1260.8 2204.5,1249.8 2205.9,1253.4 2207.2,1258.0 2208.2,1249.8 2210.5,1246.1 2212.8,1248.9 2214.1,1262.6 2215.5,1281.0 2216.9,1290.2 2218.7,1292.9 2220.6,1291.1 2221.5,1267.2 2222.9,1226.8 2224.2,1244.3 2225.1,1271.8 2226.1,1303.9 2227.0,1315.9 2228.8,1303.9 2230.2,1288.3 2231.6,1290.2 2233.4,1315.9 2234.8,1299.3 2235.7,1281.0 2237.1,1271.8 2238.9,1267.2 2240.8,1246.1 2242.1,1281.0 2244.0,1282.0"/>
<rect x="380.5" y="65.8" width="1864.5" height="1376.7" fill="none" stroke="#000" stroke-width="6.5"/>
<path d="M380.5 1442.5V1469M513.7 1442.5V1456M646.9 1442.5V1469M780.0 1442.5V1456M913.2 1442.5V1469M1046.4 1442.5V1456M1179.6 1442.5V1469M1312.8 1442.5V1456M1445.9 1442.5V1469M1579.1 1442.5V1456M1712.3 1442.5V1469M1845.5 1442.5V1456M1978.7 1442.5V1469M2111.8 1442.5V1456M2245.0 1442.5V1469" stroke="#000" stroke-width="6" stroke-linecap="round" fill="none"/>
<text class="sans" x="380.5" y="1530.5" font-size="55" text-anchor="middle">665</text>
<text class="sans" x="646.9" y="1530.5" font-size="55" text-anchor="middle">660</text>
<text class="sans" x="913.2" y="1530.5" font-size="55" text-anchor="middle">655</text>
<text class="sans" x="1179.6" y="1530.5" font-size="55" text-anchor="middle">650</text>
<text class="sans" x="1445.9" y="1530.5" font-size="55" text-anchor="middle">645</text>
<text class="sans" x="1712.3" y="1530.5" font-size="55" text-anchor="middle">640</text>
<text class="sans" x="1978.7" y="1530.5" font-size="55" text-anchor="middle">635</text>
<text class="sans" x="2245.0" y="1530.5" font-size="55" text-anchor="middle">630</text>
<text class="sans" x="333" y="86.5" font-size="55" text-anchor="end">4.2x10</text>
<text class="sans" x="333" y="55.5" font-size="33">3</text>
<text class="sans" x="333" y="188.4" font-size="55" text-anchor="end">4.0x10</text>
<text class="sans" x="333" y="157.4" font-size="33">3</text>
<text class="sans" x="333" y="290.4" font-size="55" text-anchor="end">3.8x10</text>
<text class="sans" x="333" y="259.4" font-size="33">3</text>
<text class="sans" x="333" y="392.3" font-size="55" text-anchor="end">3.6x10</text>
<text class="sans" x="333" y="361.3" font-size="33">3</text>
<text class="sans" x="333" y="494.3" font-size="55" text-anchor="end">3.4x10</text>
<text class="sans" x="333" y="463.3" font-size="33">3</text>
<text class="sans" x="333" y="596.2" font-size="55" text-anchor="end">3.2x10</text>
<text class="sans" x="333" y="565.2" font-size="33">3</text>
<text class="sans" x="333" y="698.1" font-size="55" text-anchor="end">3.0x10</text>
<text class="sans" x="333" y="667.1" font-size="33">3</text>
<text class="sans" x="333" y="800.1" font-size="55" text-anchor="end">2.8x10</text>
<text class="sans" x="333" y="769.1" font-size="33">3</text>
<text class="sans" x="333" y="902.0" font-size="55" text-anchor="end">2.6x10</text>
<text class="sans" x="333" y="871.0" font-size="33">3</text>
<text class="sans" x="333" y="1004.0" font-size="55" text-anchor="end">2.4x10</text>
<text class="sans" x="333" y="973.0" font-size="33">3</text>
<text class="sans" x="333" y="1105.9" font-size="55" text-anchor="end">2.2x10</text>
<text class="sans" x="333" y="1074.9" font-size="33">3</text>
<text class="sans" x="333" y="1207.8" font-size="55" text-anchor="end">2.0x10</text>
<text class="sans" x="333" y="1176.8" font-size="33">3</text>
<text class="sans" x="333" y="1309.8" font-size="55" text-anchor="end">1.8x10</text>
<text class="sans" x="333" y="1278.8" font-size="33">3</text>
<text class="sans" x="333" y="1411.7" font-size="55" text-anchor="end">1.6x10</text>
<text class="sans" x="333" y="1380.7" font-size="33">3</text>
<text class="sans" font-size="67" transform="translate(76.5,960.5) rotate(-90)">Intensity(a.u.)</text>
<text class="sans" x="1041" y="1630" font-size="67">Binding Energy <tspan x="1516.5">(</tspan></text>
<text class="sans" font-size="67" transform="translate(1538.5,1630) skewX(-12) scale(1.1,1)">e</text>
<text class="sans" font-size="67" transform="translate(1573.1,1630) skewX(-22)">V</text>
<text class="sans" font-size="67" x="1621.5" y="1630">)</text>
<text class="serif" x="404" y="150.8" font-size="67">Mn 2P</text>
<text class="song" x="586" y="327" font-size="52">b</text>
<text class="song" x="585" y="927.5" font-size="52">a</text>
<text class="serif" x="765.3" y="252.8" font-size="55">Mn 2P<tspan dy="-36.8">1/2</tspan></text>
<text class="serif" x="706.4" y="809.8" font-size="55">Mn 2P<tspan dy="-36.8">1/2</tspan></text>
<text class="serif" x="1743.4" y="247.9" font-size="55">Mn 2P<tspan dy="-36.8">3/2</tspan></text>
<text class="song" font-size="54" y="140.9" text-anchor="middle"><tspan x="1419">6</tspan><tspan x="1449">4</tspan><tspan x="1480.5">1</tspan><tspan x="1502">.</tspan><tspan x="1541">4</tspan></text>
<text class="serif" x="1488" y="500" font-size="55">641.1</text>
<path d="M1640.5 99.5V342.7M1648.5 462.2V784.8" stroke="#000" stroke-width="3" stroke-linecap="round"/>
<line x1="1565.3" y1="121.7" x2="1603.9" y2="138.2" stroke="#000" stroke-width="4" stroke-linecap="round"/>
<polygon points="1637.4,151.4 1607.6,129.6 1600.3,146.8" fill="#000" stroke="#000" stroke-width="1.5" stroke-linejoin="round"/>
<line x1="1600.8" y1="495.6" x2="1626.2" y2="524.5" stroke="#000" stroke-width="4" stroke-linecap="round"/>
<polygon points="1647.3,551.8 1633.2,518.4 1619.2,530.5" fill="#000" stroke="#000" stroke-width="1.5" stroke-linejoin="round"/>
</svg></body></html>
